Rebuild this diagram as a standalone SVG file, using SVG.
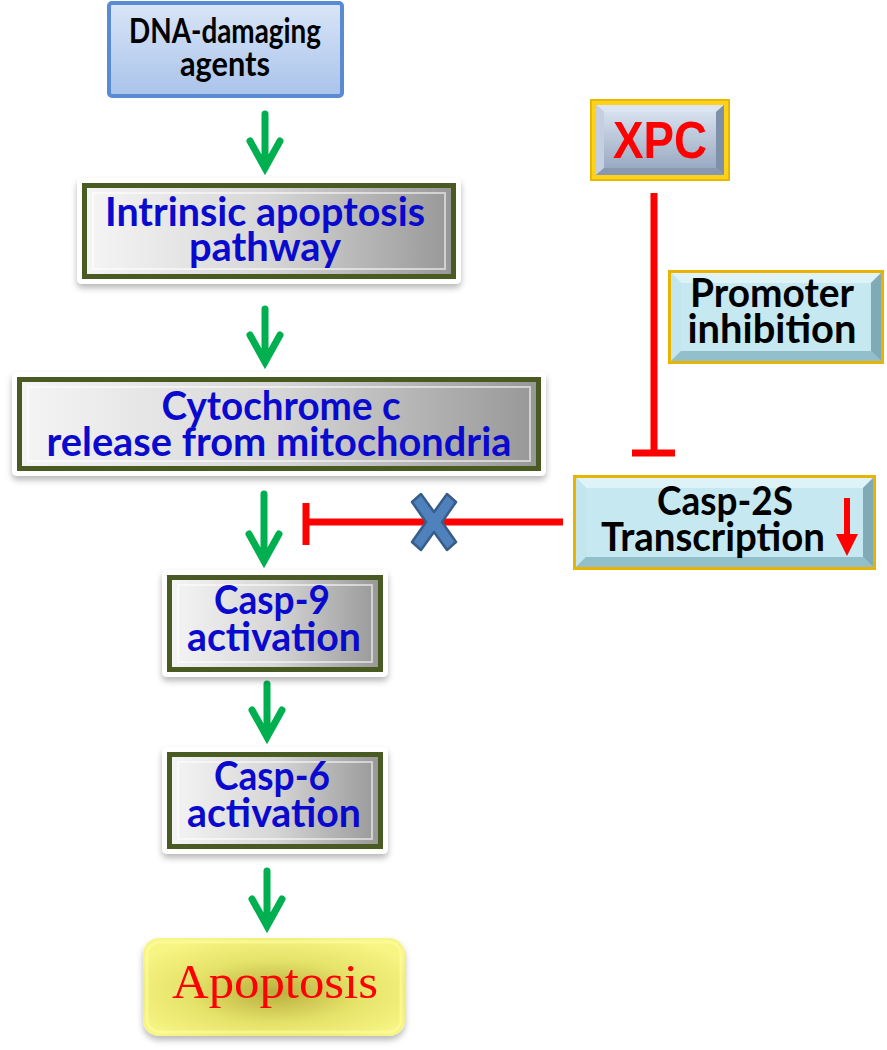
<svg xmlns="http://www.w3.org/2000/svg" width="887" height="1050" viewBox="0 0 887 1050">
<defs>
<style>
.t{font-family:Lato,"Liberation Sans",sans-serif;font-weight:700;text-anchor:middle}
.blue{fill:#0A0ACF;font-size:41px}
.blk{fill:#000;font-size:41px}
.dna{fill:#000;font-size:35px}
.g{fill:none;stroke:#00B050;stroke-width:7;stroke-linecap:round;stroke-linejoin:miter}
.r{stroke:#FF0000;stroke-width:7;fill:none}
.olive{fill:url(#gray);stroke:#4A5A23;stroke-width:5}
.rim{fill:none;stroke:#FFFFFF;stroke-opacity:0.55;stroke-width:2}
.outer{fill:#FFFFFF;filter:url(#sh)}
</style>
<linearGradient id="gray" x1="0" y1="0" x2="1" y2="0">
<stop offset="0" stop-color="#F5F5F5"/><stop offset="0.5" stop-color="#D6D6D6"/><stop offset="1" stop-color="#979797"/>
</linearGradient>
<linearGradient id="blueg" x1="0" y1="0" x2="0" y2="1">
<stop offset="0" stop-color="#D9E5F7"/><stop offset="1" stop-color="#A9C3EA"/>
</linearGradient>
<linearGradient id="xpcg" x1="0" y1="0" x2="0" y2="1">
<stop offset="0" stop-color="#D6E0EE"/><stop offset="1" stop-color="#9AAAC2"/>
</linearGradient>
<radialGradient id="yel" cx="0.5" cy="0.55" r="0.6">
<stop offset="0" stop-color="#B9AE3E"/><stop offset="0.55" stop-color="#E6E36A"/><stop offset="1" stop-color="#F7F584"/>
</radialGradient>
<filter id="sh" x="-10%" y="-10%" width="120%" height="130%">
<feDropShadow dx="0" dy="4" stdDeviation="3" flood-color="#000" flood-opacity="0.28"/>
</filter>
</defs>

<g id="connectors">
<path class="g" d="M265 114V168M250 141L265 168L280 141"/>
<path class="g" d="M265 309V362M250 335L265 362L280 335"/>
<path class="g" d="M264 494V561M249 534L264 561L279 534"/>
<path class="g" d="M267 684V737M252 710L267 737L282 710"/>
<path class="g" d="M267 871V926M252 899L267 926L282 899"/>
<path class="r" d="M654 193V453M632 453H675"/>
<path class="r" d="M563 522H306M306 503V545"/>
<polygon points="-22,-20 -13,-28 0,-10 13,-28 22,-20 8,0 22,20 13,28 0,10 -13,28 -22,20 -8,0" transform="translate(434,522)" fill="#4F81BD" stroke="#385D8A" stroke-width="2.5" stroke-linejoin="round"/>
</g>

<g id="dna">
<rect x="109" y="3" width="233" height="93" rx="3" fill="url(#blueg)" stroke="#5A8AD2" stroke-width="4"/>
<text class="t dna" x="225" y="43" textLength="192" lengthAdjust="spacingAndGlyphs">DNA-damaging</text>
<text class="t dna" x="225" y="76" textLength="90" lengthAdjust="spacingAndGlyphs">agents</text>
</g>

<g id="intrinsic">
<rect class="outer" x="77" y="178" width="384" height="106" rx="5"/>
<rect class="olive" x="84.5" y="185.5" width="369" height="91"/>
<rect class="rim" x="93" y="193" width="352" height="76"/>
<text class="t blue" x="265" y="226" textLength="320" lengthAdjust="spacingAndGlyphs">Intrinsic apoptosis</text>
<text class="t blue" x="265" y="261" textLength="152" lengthAdjust="spacingAndGlyphs">pathway</text>
</g>

<g id="cytochrome">
<rect class="outer" x="12" y="372" width="534" height="104" rx="5"/>
<rect class="olive" x="19.5" y="379.5" width="519" height="89"/>
<rect class="rim" x="28" y="387" width="502" height="74"/>
<text class="t blue" x="281" y="420" textLength="239" lengthAdjust="spacingAndGlyphs">Cytochrome c</text>
<text class="t blue" x="279" y="456" textLength="465" lengthAdjust="spacingAndGlyphs">release from mitochondria</text>
</g>

<g id="casp9">
<rect class="outer" x="162" y="570" width="226" height="107" rx="5"/>
<rect class="olive" x="169.5" y="577.5" width="211" height="92"/>
<rect class="rim" x="178" y="585" width="194" height="77"/>
<text class="t blue" x="272" y="614" textLength="116" lengthAdjust="spacingAndGlyphs">Casp-9</text>
<text class="t blue" x="274" y="651" textLength="174" lengthAdjust="spacingAndGlyphs">activation</text>
</g>

<g id="casp6">
<rect class="outer" x="162" y="747" width="226" height="107" rx="5"/>
<rect class="olive" x="169.5" y="754.5" width="211" height="92"/>
<rect class="rim" x="178" y="762" width="194" height="77"/>
<text class="t blue" x="272" y="790" textLength="116" lengthAdjust="spacingAndGlyphs">Casp-6</text>
<text class="t blue" x="274" y="827" textLength="174" lengthAdjust="spacingAndGlyphs">activation</text>
</g>

<g id="apoptosis">
<rect x="143" y="938" width="262" height="98" rx="16" fill="url(#yel)" filter="url(#sh)"/>
<rect x="147" y="942" width="254" height="90" rx="13" fill="none" stroke="#FFFFA8" stroke-opacity="0.5" stroke-width="3"/>
<text x="275" y="998" font-family="'Liberation Serif',serif" font-size="48" fill="#FF0000" text-anchor="middle" textLength="206" lengthAdjust="spacingAndGlyphs">Apoptosis</text>
</g>

<g id="xpc">
<rect x="591" y="100" width="138" height="80" fill="#FFD21A" stroke="#E8B800" stroke-width="2"/>
<rect x="596" y="105" width="128" height="70" fill="#A6B5CB"/>
<polygon points="596,105 724,105 716,112 604,112" fill="#DCE5F1"/>
<polygon points="596,105 604,112 604,168 596,175" fill="#C4D0E2"/>
<polygon points="724,105 724,175 716,168 716,112" fill="#7F90A9"/>
<polygon points="596,175 604,168 716,168 724,175" fill="#8898B1"/>
<rect x="604" y="112" width="112" height="56" fill="url(#xpcg)"/>
<text x="660" y="158" font-family="'Liberation Sans',Arial,sans-serif" font-weight="700" font-size="52" fill="#FF0000" text-anchor="middle" textLength="94" lengthAdjust="spacingAndGlyphs">XPC</text>
</g>

<g id="promoter">
<rect x="668" y="270" width="216" height="94" fill="#E8B400"/>
<rect x="671" y="273" width="210" height="88" fill="#A9D6E2"/>
<polygon points="671,273 881,273 871,283 681,283" fill="#DDF3F8"/>
<polygon points="671,273 681,283 681,351 671,361" fill="#C2E5EE"/>
<polygon points="881,273 881,361 871,351 871,283" fill="#7FAAB6"/>
<polygon points="671,361 681,351 871,351 881,361" fill="#93BFCB"/>
<rect x="681" y="283" width="190" height="68" fill="#C6E8F1"/>
<text class="t blk" x="772" y="307" textLength="164" lengthAdjust="spacingAndGlyphs">Promoter</text>
<text class="t blk" x="772" y="343" textLength="169" lengthAdjust="spacingAndGlyphs">inhibition</text>
</g>

<g id="casp2s">
<rect x="573" y="475" width="303" height="95" fill="#E8B400"/>
<rect x="576" y="478" width="297" height="89" fill="#A9D6E2"/>
<polygon points="576,478 873,478 863,488 586,488" fill="#DDF3F8"/>
<polygon points="576,478 586,488 586,557 576,567" fill="#C2E5EE"/>
<polygon points="873,478 873,567 863,557 863,488" fill="#7FAAB6"/>
<polygon points="576,567 586,557 863,557 873,567" fill="#93BFCB"/>
<rect x="586" y="488" width="277" height="69" fill="#C6E8F1"/>
<text class="t blk" x="725" y="515" textLength="136" lengthAdjust="spacingAndGlyphs">Casp-2S</text>
<text class="t blk" x="713" y="551" textLength="224" lengthAdjust="spacingAndGlyphs">Transcription</text>
<path d="M847 498V538" stroke="#FF0000" stroke-width="6"/>
<polygon points="836,534 858,534 847,556" fill="#FF0000"/>
</g>
</svg>
